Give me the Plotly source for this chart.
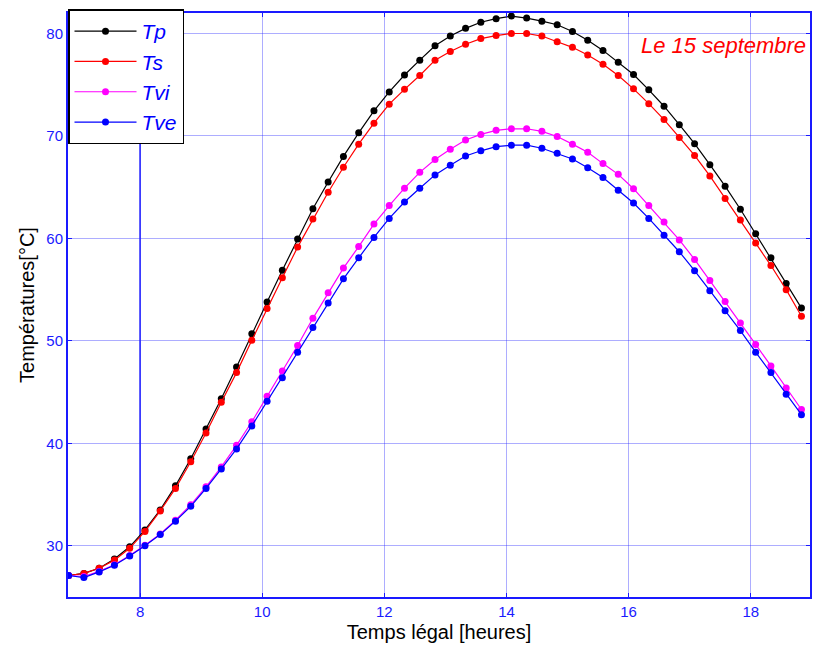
import numpy as np
import plotly.graph_objects as go

# Legal time (hours), quarter-hour samples
t_start = 6.83
step = 0.25
n_pts = 49
heures = [round(t_start + step * i, 2) for i in range(n_pts)]

Tp = [27.1, 27.3, 27.8, 28.7, 29.9, 31.55, 33.5, 35.85, 38.5, 41.4,
      44.35, 47.45, 50.7, 53.8, 56.9, 59.95, 62.9, 65.5, 68.0, 70.3,
      72.45, 74.3, 75.95, 77.4, 78.8, 79.75, 80.5, 81.1, 81.45, 81.7,
      81.5, 81.2, 80.85, 80.2, 79.35, 78.35, 77.2, 76.0, 74.5, 72.9,
      71.1, 69.25, 67.2, 65.1, 62.85, 60.45, 58.1, 55.6, 53.2]

Ts = [27.1, 27.3, 27.8, 28.6, 29.75, 31.4, 33.4, 35.6, 38.2, 41.0,
      44.0, 46.9, 50.05, 53.15, 56.15, 59.15, 61.9, 64.5, 66.95, 69.2,
      71.25, 73.1, 74.55, 75.9, 77.4, 78.25, 78.95, 79.5, 79.8, 80.0,
      80.0, 79.75, 79.2, 78.65, 77.9, 77.0, 75.9, 74.6, 73.15, 71.6,
      69.85, 68.1, 66.1, 63.9, 61.8, 59.55, 57.35, 55.0, 52.4]

Tvi = [27.1, 27.0, 27.5, 28.15, 29.05, 30.05, 31.15, 32.5, 34.0, 35.75,
       37.7, 39.8, 42.1, 44.6, 47.05, 49.55, 52.2, 54.7, 57.1, 59.2,
       61.4, 63.2, 64.9, 66.45, 67.7, 68.7, 69.6, 70.15, 70.55, 70.7,
       70.7, 70.45, 69.95, 69.2, 68.4, 67.3, 66.25, 64.85, 63.2, 61.6,
       59.85, 57.95, 55.9, 53.85, 51.75, 49.65, 47.55, 45.4, 43.3]

Tve = [27.1, 26.9, 27.45, 28.1, 29.0, 30.0, 31.1, 32.4, 33.85, 35.6,
       37.5, 39.45, 41.7, 44.1, 46.4, 48.9, 51.3, 53.7, 56.05, 58.1,
       60.1, 61.95, 63.55, 64.9, 66.2, 67.15, 68.05, 68.55, 68.95, 69.1,
       69.1, 68.8, 68.3, 67.75, 66.9, 65.95, 64.7, 63.45, 61.95, 60.3,
       58.7, 56.85, 54.9, 52.95, 51.0, 48.9, 46.9, 44.8, 42.8]

series_names = ["Tp", "Ts", "Tvi", "Tve"]
series_colors = ["#000000", "#ff0000", "#ff00ff", "#0000ff"]
series_values = [Tp, Ts, Tvi, Tve]

x_ticks = [8, 10, 12, 14, 16, 18]
y_ticks = [30, 40, 50, 60, 70, 80]

AXIS_BLUE = "#1a1aff"
GRID_BLUE = "rgba(40,40,255,0.38)"
FONT = "Liberation Sans, Arial"

fig = go.Figure()
for name, col, vals in zip(series_names, series_colors, series_values):
    fig.add_trace(go.Scatter(
        x=heures, y=vals, name=name, mode="lines+markers",
        line=dict(color=col, width=1.2),
        marker=dict(color=col, size=7),
    ))

axis_common = dict(
    showline=True, linecolor=AXIS_BLUE, linewidth=2, mirror="ticks",
    showgrid=True, gridcolor=GRID_BLUE, gridwidth=1,
    ticks="inside", ticklen=4, tickcolor=AXIS_BLUE, tickwidth=1,
    tickfont=dict(family=FONT, size=15, color=AXIS_BLUE),
    zeroline=False,
)

fig.update_xaxes(
    range=[6.82, 18.97], tickvals=x_ticks,
    title=dict(text="Temps légal [heures]", standoff=6,
               font=dict(family=FONT, size=20, color="#000000")),
    **axis_common,
)
fig.update_yaxes(
    range=[25, 82], tickvals=y_ticks,
    title=dict(text="Températures[°C]", standoff=6,
               font=dict(family=FONT, size=20, color="#000000")),
    **axis_common,
)

# the 8 h gridline is drawn in the full axis colour
fig.add_shape(type="line", xref="x", yref="paper", x0=x_ticks[0], x1=x_ticks[0],
              y0=0, y1=1, line=dict(color=AXIS_BLUE, width=1.5), layer="below")

fig.add_annotation(
    text="Le 15 septembre", xref="paper", yref="paper", x=0.997, y=0.945,
    xanchor="right", yanchor="middle", showarrow=False,
    font=dict(family=FONT, size=22, color="#ff0000", style="italic"),
)

fig.update_layout(
    width=814, height=655,
    margin=dict(l=68, r=2, t=13, b=58),
    plot_bgcolor="white", paper_bgcolor="white",
    showlegend=True,
    legend=dict(
        x=0, y=1.006, xanchor="left", yanchor="top",
        bgcolor="white", bordercolor="#000000", borderwidth=1.5,
        font=dict(family=FONT, size=21, color="#0000ff", style="italic"),
        itemwidth=62, tracegroupgap=0,
    ),
)

fig.write_html("out.html")
